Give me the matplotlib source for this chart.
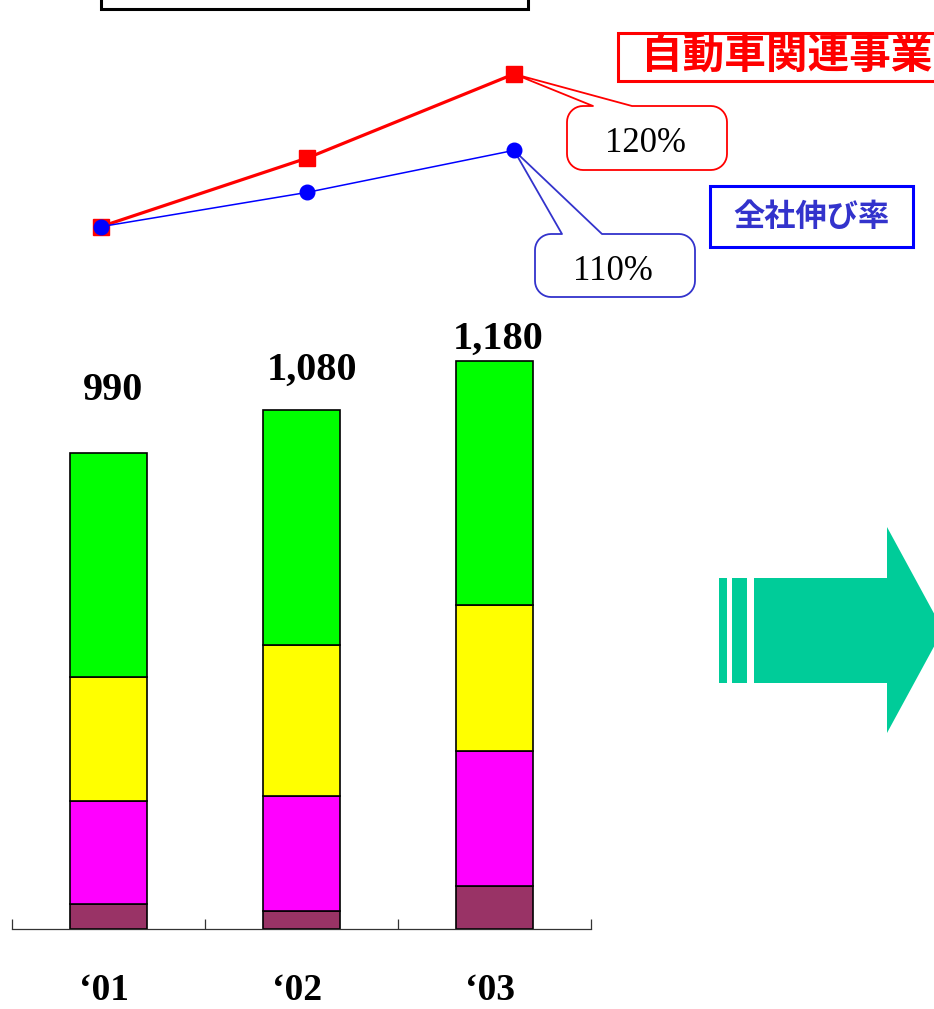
import numpy as np
import matplotlib
matplotlib.use("Agg")
import matplotlib.pyplot as plt
from matplotlib.patches import Rectangle, Polygon

# --- data -------------------------------------------------------------
years = ["\u201801", "\u201802", "\u201803"]
totals = [990, 1080, 1180]
seg_maroon = [52, 37, 89]
seg_magenta = [215, 240, 281]
seg_yellow = [257, 313, 304]
seg_green = [466, 490, 506]
segment_colors = ["#993366", "#FF00FF", "#FFFF00", "#00FF00"]

growth_auto = [100, 109, 120]      # 自動車関連事業
growth_total = [100, 104.5, 110]   # 全社伸び率
growth_auto_label = "120%"
growth_total_label = "110%"

# --- figure -------------------------------------------------------------
W, H = 934, 1009
fig = plt.figure(figsize=(W / 100, H / 100), dpi=100)
fig.patch.set_facecolor("white")


def rect(x0, y0, x1, y1):
    """pixel box (origin top-left) -> figure fraction rect"""
    return [x0 / W, 1 - y1 / H, (x1 - x0) / W, (y1 - y0) / H]


SERIF = "Liberation Serif"
CJK = ["Noto Sans CJK JP", "DejaVu Sans"]

# overlay for boxes, callouts and the arrow (pixel coordinates, y down)
ov = fig.add_axes([0, 0, 1, 1], zorder=0)
ov.set_xlim(0, W)
ov.set_ylim(H, 0)
ov.axis("off")

# --- stacked bars -------------------------------------------------------
px_per_unit = 0.481
ymax = 1300
axb = fig.add_axes(rect(12, 929 - ymax * px_per_unit, 591, 929), zorder=1)
axb.patch.set_visible(False)
x = np.arange(len(years))
bottom = np.zeros(len(years))
for seg, col in zip([seg_maroon, seg_magenta, seg_yellow, seg_green], segment_colors):
    axb.bar(x, seg, width=0.4, bottom=bottom, color=col,
            edgecolor="black", linewidth=1.2)
    bottom += np.array(seg)
axb.set_xlim(-0.5, 2.5)
axb.set_ylim(0, ymax)
axb.set_yticks([])
axb.set_xticks([-0.5, 0.5, 1.5, 2.5])
axb.set_xticklabels([])
axb.tick_params(axis="x", direction="in", length=7.5, width=0.9, colors="#333333")
for s in ["left", "right", "top"]:
    axb.spines[s].set_visible(False)
axb.spines["bottom"].set_color("#333333")
axb.spines["bottom"].set_linewidth(0.9)

label_offsets = [(4.5, 53), (11, 29.5), (3.5, 12.5)]
for i, (t, off) in enumerate(zip(totals, label_offsets)):
    axb.annotate(f"{t:,}", xy=(i, t), xytext=off, textcoords="offset pixels",
                 ha="center", va="baseline", fontsize=29, fontweight="bold",
                 family=SERIF, annotation_clip=False)
for i, y in enumerate(years):
    axb.annotate(y, xy=(i, 0), xytext=(-4, -61), textcoords="offset pixels",
                 ha="center", va="center", fontsize=27, fontweight="bold",
                 family=SERIF, annotation_clip=False)

# --- growth lines -------------------------------------------------------
axl = fig.add_axes(rect(100.7, 74, 514, 226.7), zorder=2)
axl.patch.set_visible(False)
axl.set_xlim(0, 2)
axl.set_ylim(100, 120)
axl.axis("off")
axl.plot(x, growth_auto, color="#FF0000", lw=2.3, marker="s", ms=11,
         clip_on=False)
axl.plot(x, growth_total, color="#0000FF", lw=1.1, marker="o", ms=10.5,
         clip_on=False)


def to_px(ax, pt):
    dx, dy = ax.transData.transform(pt)
    return dx, H - dy


def callout(x0, y0, x1, y1, r, b0, b1, tip, edge, n=10):
    def arc(cx, cy, a0, a1):
        t = np.radians(np.linspace(a0, a1, n))
        return list(zip(cx + r * np.cos(t), cy + r * np.sin(t)))
    v = [(x0 + r, y0), (b0, y0), tip, (b1, y0), (x1 - r, y0)]
    v += arc(x1 - r, y0 + r, -90, 0)
    v += arc(x1 - r, y1 - r, 0, 90)
    v += arc(x0 + r, y1 - r, 90, 180)
    v += arc(x0 + r, y0 + r, 180, 270)
    ov.add_patch(Polygon(v, closed=True, facecolor="white", edgecolor=edge,
                         lw=1.3, joinstyle="round"))


tip_auto = to_px(axl, (2, growth_auto[2]))
tip_total = to_px(axl, (2, growth_total[2]))
callout(567, 106, 727, 170, 16, 593, 632, tip_auto, "#FF0000")
callout(535, 234, 695, 297, 16, 562, 602, tip_total, "#3333CC")
ov.text(646, 143, growth_auto_label, ha="center", va="center", fontsize=25,
        family=SERIF)
ov.text(613, 271, growth_total_label, ha="center", va="center", fontsize=25,
        family=SERIF)

# --- legend-style boxes ---------------------------------------------------
ov.add_patch(Rectangle((101, -40), 427, 49, facecolor="white",
                       edgecolor="black", lw=2.2))
ov.add_patch(Rectangle((618, 33), 400, 48, facecolor="white",
                       edgecolor="#FF0000", lw=2.2, clip_on=False))
ov.text(641, 57, "自動車関連事業", ha="left", va="center", fontsize=30,
        fontweight="bold", color="#FF0000", family=CJK)
ov.add_patch(Rectangle((710, 186), 203, 61, facecolor="white",
                       edgecolor="#0000FF", lw=2.2))
ov.text(812, 217, "全社伸び率", ha="center", va="center", fontsize=22.5,
        fontweight="bold", color="#3333CC", family=CJK)

# --- arrow ----------------------------------------------------------------
arrow_col = "#00CC99"
ov.add_patch(Rectangle((719, 578), 8, 105, facecolor=arrow_col, lw=0))
ov.add_patch(Rectangle((732, 578), 15, 105, facecolor=arrow_col, lw=0))
ov.add_patch(Polygon([(754, 578), (887, 578), (887, 527), (943, 630),
                      (887, 733), (887, 683), (754, 683)], closed=True,
                     facecolor=arrow_col, lw=0))

fig.savefig("out.png", dpi=100, facecolor="white")
